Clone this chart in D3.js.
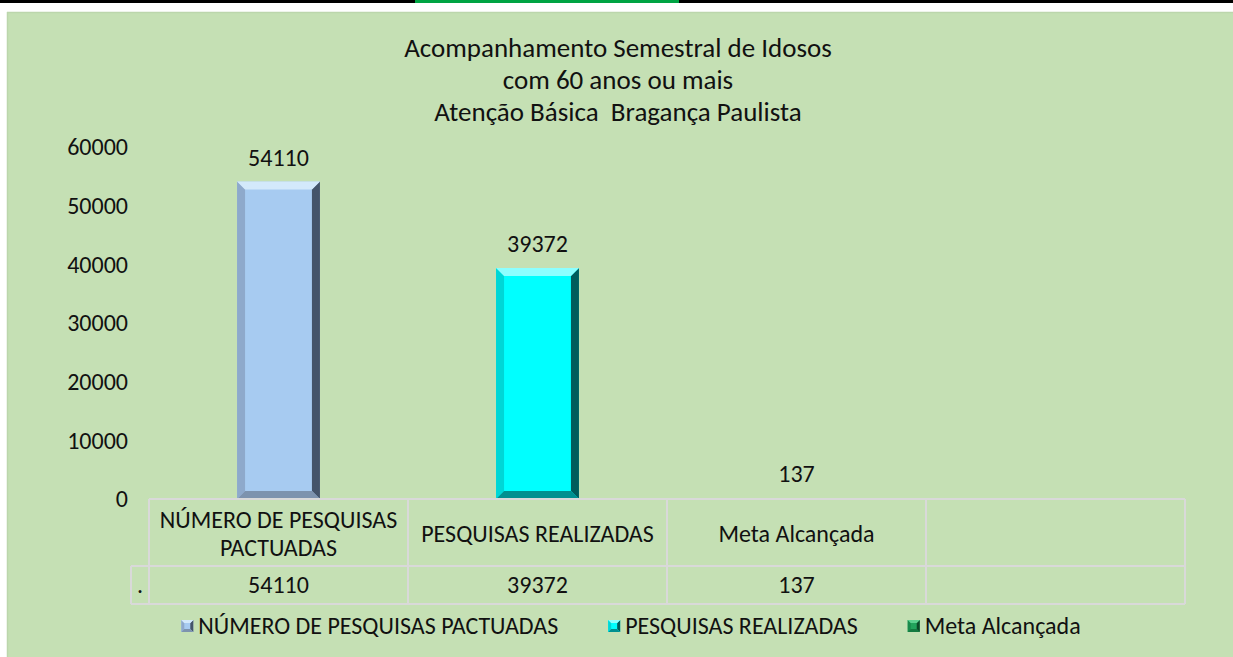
<!DOCTYPE html>
<html>
<head>
<meta charset="utf-8">
<script src="https://cdn.jsdelivr.net/npm/d3@7"></script>
<style>
  html, body { margin: 0; padding: 0; background: #fff; }
  svg { display: block; font-family: Carlito, Lato, "Open Sans", sans-serif; }
</style>
</head>
<body>
<svg id="chart" width="1233" height="657"></svg>
<script>
// chart data
const titleLines = ["Acompanhamento Semestral de Idosos", "com 60 anos ou mais", "Atenção Básica  Bragança Paulista"];
const categories = ["NÚMERO DE PESQUISAS PACTUADAS", "PESQUISAS REALIZADAS", "Meta Alcançada", ""];
const headerLines = [["NÚMERO DE PESQUISAS", "PACTUADAS"], ["PESQUISAS REALIZADAS"], ["Meta Alcançada"], []];
const values = [54110, 39372, 137];
const yTicks = [0, 10000, 20000, 30000, 40000, 50000, 60000];
const rowLabel = ".";

// bar look: main, top bevel, left, right, bottom
const palettes = [
  {main: "#a7cbf1", top: "#d3e9fb", left: "#8ea9cb", right: "#44546a", bottom: "#7d93ae"},
  {main: "#00ffff", top: "#8cffff", left: "#00d6d6", right: "#005c5c", bottom: "#009090"},
  {main: "#22a35c", top: "#5cd08f", left: "#1a8a4c", right: "#0c4a28", bottom: "#147a40"}
];

const svg = d3.select("#chart");
const W = 1233, H = 657;
const fs = 24;

// top page rule + green tab
svg.append("rect").attr("x", 0).attr("y", 0).attr("width", W).attr("height", 3).attr("fill", "#000");
svg.append("rect").attr("x", 415).attr("y", 0).attr("width", 264).attr("height", 3).attr("fill", "#00a443");

// chart panel
svg.append("rect").attr("x", 7).attr("y", 12).attr("width", W - 7).attr("height", H - 12)
  .attr("fill", "#c5e0b4");
svg.append("line").attr("x1", 7).attr("x2", W).attr("y1", 12.5).attr("y2", 12.5)
  .attr("stroke", "#bcd6ac").attr("stroke-width", 1.5);
svg.append("line").attr("x1", 7.5).attr("x2", 7.5).attr("y1", 12).attr("y2", H)
  .attr("stroke", "#bcd6ac").attr("stroke-width", 1.5);

// title
svg.append("g").selectAll("text").data(titleLines).join("text")
  .attr("x", 618).attr("y", (d, i) => 57 + i * 32)
  .attr("text-anchor", "middle").attr("font-size", 27).attr("fill", "#111")
  .style("white-space", "pre")
  .text(d => d);

const x = d3.scaleBand().domain(d3.range(categories.length)).range([149, 1185]);
const y = d3.scaleLinear().domain([0, 60000]).range([499, 147]);

// y axis
const yAxis = svg.append("g").attr("transform", "translate(149,0)")
  .call(d3.axisLeft(y).tickValues(yTicks).tickSize(0).tickPadding(21).tickFormat(d3.format("d")));
yAxis.select(".domain").remove();
yAxis.selectAll("text").attr("font-size", fs).attr("fill", "#111")
  .attr("font-family", "Carlito, Lato, 'Open Sans', sans-serif");

// beveled bar shape
function bevelBar(g, bx, by, bw, bh, p, b0) {
  const b = Math.min(b0, bh / 2, bw / 2);
  const x0 = bx, x1 = bx + bw, y0 = by, y1 = by + bh;
  const poly = pts => pts.map(q => q.join(",")).join(" ");
  g.append("rect").attr("x", x0).attr("y", y0).attr("width", bw).attr("height", bh).attr("fill", p.main);
  g.append("polygon").attr("points", poly([[x0, y0], [x0 + b, y0 + b], [x0 + b, y1 - b], [x0, y1]])).attr("fill", p.left);
  g.append("polygon").attr("points", poly([[x1, y0], [x1, y1], [x1 - b, y1 - b], [x1 - b, y0 + b]])).attr("fill", p.right);
  g.append("polygon").attr("points", poly([[x0, y1], [x1, y1], [x1 - b, y1 - b], [x0 + b, y1 - b]])).attr("fill", p.bottom);
  g.append("polygon").attr("points", poly([[x0, y0], [x1, y0], [x1 - b, y0 + b], [x0 + b, y0 + b]])).attr("fill", p.top);
}

const barW = x.bandwidth() * 0.32;
const bars = svg.append("g");
values.forEach((v, i) => {
  const bx = x(i) + (x.bandwidth() - barW) / 2;
  bevelBar(bars.append("g"), bx, y(v), barW, y(0) - y(v), palettes[i], 8);
});

// data labels
svg.append("g").selectAll("text").data(values).join("text")
  .attr("x", (d, i) => x(i) + x.bandwidth() / 2)
  .attr("y", d => y(d) - 16)
  .attr("text-anchor", "middle").attr("font-size", fs).attr("fill", "#111")
  .text(d => d);

// data table
const grid = svg.append("g").attr("stroke", "#d9d9d9").attr("stroke-width", 2).attr("fill", "none");
const tTop = y(0), tMid = 566, tBot = 604, tLeft = 131;
const xEnd = x.range()[1];
grid.append("line").attr("x1", x(0)).attr("x2", xEnd).attr("y1", tTop).attr("y2", tTop);
grid.append("line").attr("x1", tLeft).attr("x2", xEnd).attr("y1", tMid).attr("y2", tMid);
grid.append("line").attr("x1", tLeft).attr("x2", xEnd).attr("y1", tBot).attr("y2", tBot);
grid.append("line").attr("x1", tLeft).attr("x2", tLeft).attr("y1", tMid).attr("y2", tBot);
categories.forEach((c, i) => {
  grid.append("line").attr("x1", x(i)).attr("x2", x(i)).attr("y1", tTop).attr("y2", tBot);
});
grid.append("line").attr("x1", xEnd).attr("x2", xEnd).attr("y1", tTop).attr("y2", tBot);

const table = svg.append("g").attr("font-size", fs).attr("fill", "#111").attr("text-anchor", "middle");
headerLines.forEach((lines, i) => {
  const cy = (tTop + tMid) / 2;
  lines.forEach((t, j) => {
    table.append("text").attr("x", x(i) + x.bandwidth() / 2)
      .attr("y", cy + (j - (lines.length - 1) / 2) * 28 + 1).attr("dy", "0.35em").text(t);
  });
});
values.forEach((v, i) => {
  table.append("text").attr("x", x(i) + x.bandwidth() / 2)
    .attr("y", (tMid + tBot) / 2).attr("dy", "0.35em").text(v);
});
table.append("text").attr("x", (tLeft + x(0)) / 2).attr("y", (tMid + tBot) / 2).attr("dy", "0.35em").text(rowLabel);

// legend
const legend = svg.append("g").attr("font-size", fs).attr("fill", "#111");
const items = categories.slice(0, values.length).map((c, i) => {
  const g = legend.append("g");
  bevelBar(g, 0, -6, 12, 12, palettes[i], 3);
  const t = g.append("text").attr("x", 17).attr("y", 0).attr("dy", "0.35em").text(c);
  return {g, w: 17 + t.node().getComputedTextLength()};
});
const gap = 50;
const total = d3.sum(items, d => d.w) + gap * (items.length - 1);
let lx = 631 - total / 2;
items.forEach(it => {
  it.g.attr("transform", `translate(${lx},626)`);
  lx += it.w + gap;
});
</script>
</body>
</html>
